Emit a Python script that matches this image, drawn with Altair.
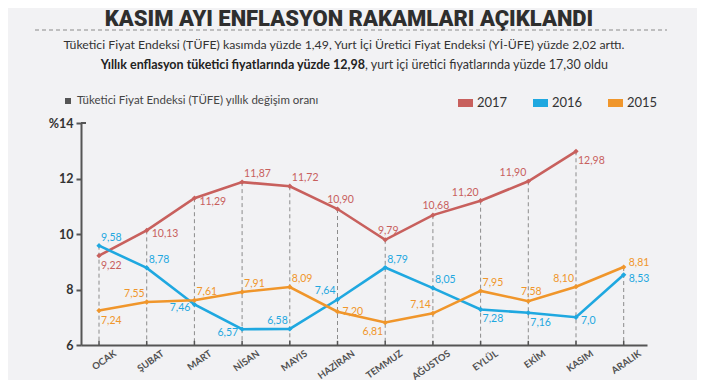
import altair as alt
import pandas as pd

months = ["OCAK", "ŞUBAT", "MART", "NİSAN", "MAYIS", "HAZİRAN", "TEMMUZ",
          "AĞUSTOS", "EYLÜL", "EKİM", "KASIM", "ARALIK"]
years = ["2017", "2016", "2015"]
tufe_2017 = ["9.22", "10.13", "11.29", "11.87", "11.72", "10.90", "9.79",
             "10.68", "11.20", "11.90", "12.98"]
tufe_2016 = ["9.58", "8.78", "7.46", "6.57", "6.58", "7.64", "8.79",
             "8.05", "7.28", "7.16", "7.0", "8.53"]
tufe_2015 = ["7.24", "7.55", "7.61", "7.91", "8.09", "7.20", "6.81",
             "7.14", "7.95", "7.58", "8.10", "8.81"]
y_ticks = [6, 8, 10, 12, 14]

# label placement codes (style, not data)
place_2017 = ["br", "rb", "rb", "ar", "ar", "a", "a", "a", "al", "al", "br"]
place_2016 = ["ar", "ar", "lb", "lb", "al", "al", "ar", "ar", "br", "br", "rb", "rb"]
place_2015 = ["br", "al", "ar", "ar", "ar", "r", "bl", "al", "ar", "a", "al", "ru"]

colors = ["#c8605d", "#1fa8e0", "#f0962b"]
label_colors = ["#c86a67", "#2aa9df", "#ef9a38"]

title = "KASIM AYI ENFLASYON RAKAMLARI AÇIKLANDI"
sub1 = "Tüketici Fiyat Endeksi (TÜFE) kasımda yüzde 1,49, Yurt İçi Üretici Fiyat Endeksi (Yİ-ÜFE) yüzde 2,02 arttı."
sub2_bold = "Yıllık enflasyon tüketici fiyatlarında yüzde 12,98"
sub2_norm = ", yurt içi üretici fiyatlarında yüzde 17,30 oldu"
legend_note = "Tüketici Fiyat Endeksi (TÜFE) yıllık değişim oranı"

rows = []
for yr, vals, places in zip(years, [tufe_2017, tufe_2016, tufe_2015],
                            [place_2017, place_2016, place_2015]):
    for i, (m, v, p) in enumerate(zip(months, vals, places)):
        rows.append({"month": m, "idx": i, "year": yr, "value": float(v),
                     "label": v.replace(".", ","), "place": p})
df = pd.DataFrame(rows)

FONT = "Lato"
x_scale = alt.Scale(type="point", padding=0.433, align=0.436)
y_scale = alt.Scale(domain=[6, 14], nice=False, zero=False)

x_axis = alt.Axis(title=None, ticks=False, domainColor="#555555", domainWidth=2,
                  labelAngle=-35, labelAlign="right", labelBaseline="top",
                  labelFontWeight="bold", labelFontSize=9.5, labelColor="#505050",
                  labelFont=FONT, labelPadding=3, labelOffset=13, grid=False)
y_axis = alt.Axis(title=None, values=y_ticks,
                  labelExpr="datum.value == 14 ? '%14' : datum.label",
                  domainColor="#555555", domainWidth=2, tickColor="#555555",
                  tickWidth=2, tickSize=5, labelFontWeight="bold", labelFontSize=12.5,
                  labelColor="#333333", labelFont=FONT, labelPadding=3, grid=False)

X = alt.X("month:N", sort=months, scale=x_scale, axis=x_axis)
Y = alt.Y("value:Q", scale=y_scale, axis=y_axis)
color = alt.Color("year:N", scale=alt.Scale(domain=years, range=colors), legend=None)

base = alt.Chart(df)

rules = base.transform_aggregate(vmax="max(value)", groupby=["month"]).mark_rule(
    strokeDash=[4, 3], color="#8c8c8c", strokeWidth=1
).encode(x=X, y=alt.Y("vmax:Q", scale=y_scale, axis=y_axis), y2=alt.datum(6))

xticks = base.transform_aggregate(vmax="max(value)", groupby=["month"]).mark_rule(
    color="#555555", strokeWidth=1.5
).encode(x=X, y=alt.datum(6), y2=alt.datum(6.15))

lines = base.mark_line(strokeWidth=2.6).encode(x=X, y=Y, color=color, order="idx:Q")

points = base.mark_point(shape="diamond", filled=True, size=28, opacity=1).encode(
    x=X, y=Y, color=color)

offsets = {
    "ar": ("left", 2, -8),
    "al": ("right", -2, -8),
    "a": ("center", 3, -9),
    "br": ("left", 2, 10),
    "bl": ("right", -2, 9),
    "r": ("left", 5, 0),
    "ru": ("left", 5, -4),
    "rb": ("left", 5, 4),
    "lb": ("right", -4, 4),
}
label_layers = []
for code, (al, dx, dy) in offsets.items():
    label_layers.append(
        base.transform_filter(alt.datum.place == code).mark_text(
            align=al, dx=dx, dy=dy, baseline="middle", font=FONT, fontSize=10.5
        ).encode(x=X, y=Y, text="label:N",
                 color=alt.Color("year:N", scale=alt.Scale(domain=years, range=label_colors),
                                 legend=None))
    )

one = alt.Data(values=[{}])
deco = []
deco.append(alt.Chart(one).mark_text(
    text=title, font="Roboto", fontWeight=900, fontSize=22, color="#2e2e2e",
    align="center", baseline="alphabetic").encode(x=alt.value(268), y=alt.value(-97)))
deco.append(alt.Chart(one).mark_rule(color="#8a8a8a", strokeDash=[4, 3], strokeWidth=1).encode(
    x=alt.value(-46), x2=alt.value(586), y=alt.value(-93)))
deco.append(alt.Chart(one).mark_text(
    text=sub1, font=FONT, fontSize=12.3, color="#333333", align="center",
    baseline="middle").encode(x=alt.value(263), y=alt.value(-78)))
deco.append(alt.Chart(one).mark_text(
    text=sub2_bold, font=FONT, fontSize=12.5, fontWeight="bold", color="#222222",
    align="right", baseline="middle").encode(x=alt.value(284), y=alt.value(-58)))
deco.append(alt.Chart(one).mark_text(
    text=sub2_norm, font=FONT, fontSize=12.5, color="#333333", align="left",
    baseline="middle").encode(x=alt.value(284), y=alt.value(-58)))
deco.append(alt.Chart(one).mark_rect(color="#555555").encode(
    x=alt.value(-16), x2=alt.value(-10), y=alt.value(-25), y2=alt.value(-19)))
deco.append(alt.Chart(one).mark_text(
    text=legend_note, font=FONT, fontSize=11.5, color="#444444", align="left",
    baseline="middle").encode(x=alt.value(-4), y=alt.value(-22)))
for i, (yr, c) in enumerate(zip(years, colors)):
    x0 = 377 + 75 * i
    deco.append(alt.Chart(one).mark_rect(color=c).encode(
        x=alt.value(x0), x2=alt.value(x0 + 15), y=alt.value(-24), y2=alt.value(-16)))
    deco.append(alt.Chart(one).mark_text(
        text=yr, font=FONT, fontSize=13, color="#333333", align="left",
        baseline="middle").encode(x=alt.value(x0 + 19), y=alt.value(-20)))
# small hook at top of y-axis
deco.append(alt.Chart(one).mark_rule(color="#555555", strokeWidth=2).encode(
    x=alt.value(0), x2=alt.value(5), y=alt.value(0)))

chart = alt.layer(rules, xticks, lines, points, *label_layers, *deco).properties(
    width=566, height=222,
    autosize=alt.AutoSizeParams(type="none"),
    padding={"left": 73, "top": 115, "right": 50, "bottom": 45},
    background="#f2f2f4",
).configure_view(stroke=None)

chart.save("out.html", embed_options={"renderer": "svg", "actions": False})
